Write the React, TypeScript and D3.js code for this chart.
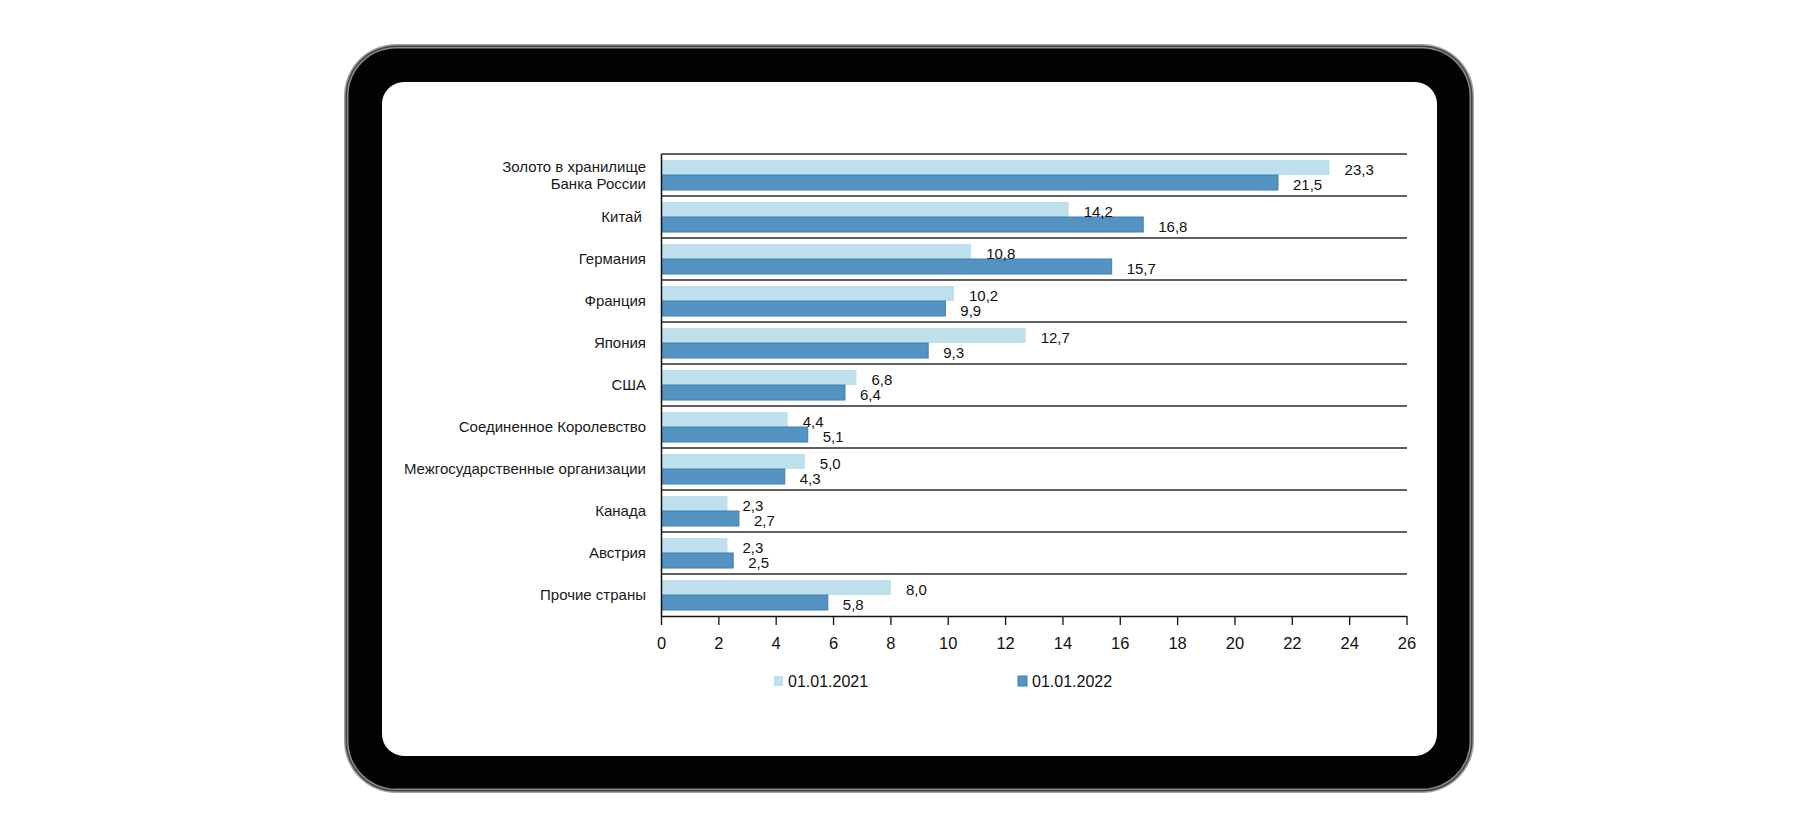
import React from "react";
import * as d3 from "d3";

const WIDTH = 1820;
const HEIGHT = 840;

const categories = [
  ["Золото в хранилище", "Банка России"],
  ["Китай\u00A0"],
  ["Германия"],
  ["Франция"],
  ["Япония"],
  ["США"],
  ["Соединенное Королевство"],
  ["Межгосударственные организации"],
  ["Канада"],
  ["Австрия"],
  ["Прочие страны"],
];
const values2021 = [23.3, 14.2, 10.8, 10.2, 12.7, 6.8, 4.4, 5.0, 2.3, 2.3, 8.0];
const values2022 = [21.5, 16.8, 15.7, 9.9, 9.3, 6.4, 5.1, 4.3, 2.7, 2.5, 5.8];
const ticks = [0, 2, 4, 6, 8, 10, 12, 14, 16, 18, 20, 22, 24, 26];
const seriesNames = ["01.01.2021", "01.01.2022"];

const LIGHT = "#bee0ec";
const DARK = "#5492c2";
const DARK_EDGE = "#3f7fb2";
const FONT = "'Liberation Sans', Arial, sans-serif";

const fmt = (v: number) => v.toFixed(1).replace(".", ",");

export default function App() {
  const x = d3.scaleLinear().domain([0, 26]).range([661.5, 1407]);
  const y = d3
    .scaleBand<number>()
    .domain(d3.range(categories.length))
    .range([154, 616])
    .paddingInner(0);
  const bw = y.bandwidth();
  const barH = 15;

  return (
    <svg
      width={WIDTH}
      height={HEIGHT}
      style={{ position: "absolute", left: 0, top: 0, background: "#fff" }}
      fontFamily={FONT}
    >
      {/* tablet frame */}
      <rect x={344} y={44} width={1130} height={749} rx={52} fill="#a0a0a0" />
      <rect x={345.5} y={45.5} width={1127} height={746} rx={50.5} fill="#444" />
      <rect x={347} y={47} width={1124} height={743} rx={49} fill="#8a8a8a" />
      <rect x={348.5} y={48.5} width={1121} height={740} rx={47.5} fill="#030303" />
      <rect x={382} y={82} width={1055} height={674} rx={22} fill="#ffffff" />

      {/* row separators */}
      {d3.range(categories.length).map((i) => (
        <line
          key={"sep" + i}
          x1={x(0)}
          x2={x(26)}
          y1={y(i)!}
          y2={y(i)!}
          stroke="#2b2b2b"
          strokeWidth={1.3}
        />
      ))}

      {/* bars */}
      {categories.map((_, i) => {
        const y0 = y(i)!;
        return (
          <g key={"bars" + i}>
            <rect
              x={x(0)}
              y={y0 + 6}
              width={x(values2021[i]) - x(0)}
              height={barH}
              fill={LIGHT}
            />
            <rect
              x={x(0)}
              y={y0 + 6 + barH}
              width={x(values2022[i]) - x(0)}
              height={barH}
              fill={DARK}
              stroke={DARK_EDGE}
              strokeWidth={1}
            />
            <text
              x={x(values2021[i]) + 15}
              y={y0 + 6 + barH / 2 + 2}
              dy="0.35em"
              fontSize={15}
              fill="#111"
            >
              {fmt(values2021[i])}
            </text>
            <text
              x={x(values2022[i]) + 15}
              y={y0 + 6 + barH * 1.5 + 2}
              dy="0.35em"
              fontSize={15}
              fill="#111"
            >
              {fmt(values2022[i])}
            </text>
          </g>
        );
      })}

      {/* category labels */}
      {categories.map((lines, i) => {
        const cy = y(i)! + bw / 2;
        return (
          <text
            key={"cat" + i}
            x={646}
            textAnchor="end"
            fontSize={15}
            fill="#1a1a1a"
            style={{ whiteSpace: "pre" }}
          >
            {lines.map((l, j) => (
              <tspan
                key={j}
                x={646}
                y={cy + (j - (lines.length - 1) / 2) * 17}
                dy="0.35em"
              >
                {l}
              </tspan>
            ))}
          </text>
        );
      })}

      {/* axes */}
      <line x1={x(0)} x2={x(0)} y1={154} y2={617} stroke="#111" strokeWidth={1.5} />
      <line x1={x(0)} x2={x(26)} y1={616.5} y2={616.5} stroke="#111" strokeWidth={1.5} />
      {ticks.map((t) => (
        <g key={"t" + t}>
          <line x1={x(t)} x2={x(t)} y1={616} y2={625} stroke="#111" strokeWidth={1.3} />
          <text
            x={x(t)}
            y={643}
            dy="0.35em"
            textAnchor="middle"
            fontSize={16.5}
            fill="#111"
          >
            {t}
          </text>
        </g>
      ))}

      {/* legend */}
      {seriesNames.map((name, i) => {
        const lx = i === 0 ? 774 : 1018;
        return (
          <g key={"lg" + i}>
            <rect
              x={lx}
              y={676}
              width={9}
              height={10}
              fill={i === 0 ? LIGHT : DARK}
              stroke={i === 0 ? "none" : DARK_EDGE}
            />
            <text x={lx + 14} y={681} dy="0.35em" fontSize={16} fill="#111">
              {name}
            </text>
          </g>
        );
      })}
    </svg>
  );
}
